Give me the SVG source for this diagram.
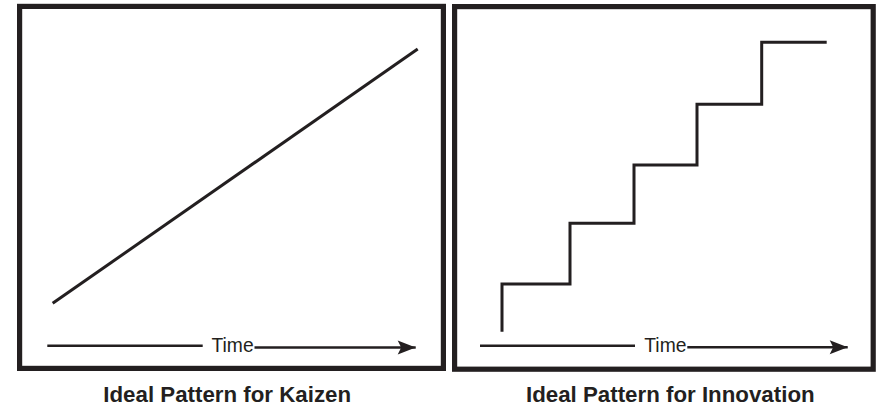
<svg xmlns="http://www.w3.org/2000/svg" width="884" height="406" viewBox="0 0 884 406">
<style>
.frame{fill:#fff;stroke:#231f20;stroke-width:5.2}
.ln{fill:none;stroke:#231f20;stroke-width:3;stroke-linejoin:miter;stroke-linecap:butt}
.ax{fill:none;stroke:#231f20;stroke-width:2.6}
.time{font-family:"Liberation Sans",Arial,sans-serif;font-size:19.3px;fill:#231f20}
.title{font-family:"Liberation Sans",Arial,sans-serif;font-weight:bold;font-size:22.3px;fill:#231f20;text-anchor:middle}
</style>
<defs>
<marker id="ah" markerUnits="userSpaceOnUse" markerWidth="20" markerHeight="16" refX="18" refY="7" orient="auto" overflow="visible">
<path d="M0,0 L18,7 L0,14 L3.5,7 Z" fill="#231f20"/>
</marker>
</defs>
<rect width="884" height="406" fill="#fff"/>
<g id="kaizen">
<rect class="frame" x="19.6" y="6.4" width="423.8" height="362"/>
<line class="ln" x1="52.7" y1="303.3" x2="417.7" y2="49"/>
<text class="title" x="227.2" y="402">Ideal Pattern for Kaizen</text>
</g>
<g id="innovation">
<rect class="frame" x="454.6" y="6.6" width="418.6" height="362.6"/>
<polyline class="ln" points="502,331.7 502,284 570,284 570,223.3 634,223.3 634,165 697,165 697,104.3 761.7,104.3 761.7,42.3 826.7,42.3"/>
<text class="title" x="670.3" y="401.5">Ideal Pattern for Innovation</text>
</g>
<g id="connectors">
<line class="ax" x1="47.3" y1="345.8" x2="202.7" y2="345.8"/>
<text class="time" x="211.5" y="352.3">Time</text>
<line class="ax" x1="254.5" y1="347.5" x2="415.7" y2="347.5" marker-end="url(#ah)"/>
<line class="ax" x1="480" y1="345.8" x2="635" y2="345.8"/>
<text class="time" x="644.3" y="351.8">Time</text>
<line class="ax" x1="687.3" y1="347.3" x2="847.7" y2="347.3" marker-end="url(#ah)"/>
</g>
</svg>
